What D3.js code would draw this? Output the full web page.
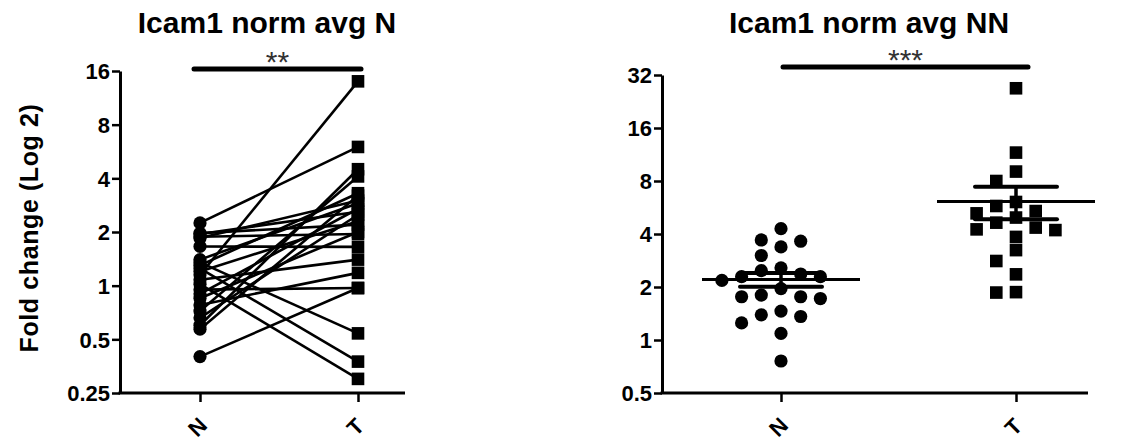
<!DOCTYPE html>
<html>
<head>
<meta charset="utf-8">
<script src="https://cdn.jsdelivr.net/npm/d3@7"></script>
<style>
  body { margin: 0; background: #fff; }
  svg text { font-family: "Liberation Sans", Arial, sans-serif; font-weight: bold; fill: #000; }
</style>
</head>
<body>
<svg id="chart" width="1128" height="441"></svg>
<script>
// categories
const groups = ["N", "T"];

// left panel: paired samples (N -> T)
const pairedN = [2.25, 1.97, 1.95, 1.88, 1.85, 1.66, 1.40, 1.35, 1.30, 1.25, 1.20, 1.15,
                 1.08, 1.02, 0.95, 0.90, 0.85, 0.78, 0.72, 0.66, 0.60, 0.57, 0.40];
const pairedT = [6.0, 2.2, 2.6, 1.95, 3.0, 1.65, 2.9, 0.54, 3.3, 0.375, 2.3, 14.0,
                 1.40, 0.30, 0.97, 2.7, 2.0, 1.18, 4.1, 2.5, 4.5, 3.2, 0.97];
const leftTicks = [0.25, 0.5, 1, 2, 4, 8, 16];

// right panel: unpaired scatter
const scatterN = [4.29, 3.70, 3.64, 3.38, 3.02, 2.57, 2.48, 2.37, 2.29, 2.29, 2.18,
                  1.96, 1.80, 1.76, 1.76, 1.72, 1.46, 1.39, 1.36, 1.25, 1.09, 0.76];
const scatterT = [26.9, 11.6, 9.05, 8.0, 6.08, 5.77, 5.40, 5.24, 4.96, 4.64, 4.35,
                  4.25, 4.21, 3.85, 3.24, 2.81, 2.36, 1.87, 1.86];
const rightTicks = [0.5, 1, 2, 4, 8, 16, 32];

const titles = ["Icam1 norm avg N", "Icam1 norm avg NN"];
const sigLabels = ["**", "***"];
const yLabel = "Fold change (Log 2)";

const svg = d3.select("#chart");
const fmt = d3.format("~g");

// axes for one panel
function drawFrame(p) {
    const y = d3.scaleLog().base(2).domain(d3.extent(p.ticks)).range([p.bottom, p.top]);
    const x = d3.scalePoint().domain(groups).range(p.xRange);
    const g = svg.append("g");

    const ya = g.append("g")
        .attr("transform", `translate(${p.left},0)`)
        .call(d3.axisLeft(y).tickValues(p.ticks).tickFormat(fmt).tickSize(8).tickSizeOuter(0).tickPadding(2));
    ya.select(".domain").attr("stroke-width", 3);
    ya.selectAll(".tick line").attr("stroke-width", 2.5);
    ya.selectAll(".tick text").style("font-size", "22px").attr("dy", "0.36em");

    const xa = g.append("g")
        .attr("transform", `translate(0,${p.bottom})`)
        .call(d3.axisBottom(x).tickSize(9).tickSizeOuter(0));
    xa.select(".domain").remove();
    xa.selectAll(".tick line").attr("stroke-width", 2.5);
    xa.selectAll(".tick text")
        .style("font-size", "22px")
        .attr("y", 0).attr("dy", 0)
        .attr("text-anchor", "middle")
        .attr("dominant-baseline", "central")
        .attr("transform", "translate(-3,34) rotate(-45)");
    g.append("line")
        .attr("x1", p.left - 1.5).attr("x2", p.right)
        .attr("y1", p.bottom).attr("y2", p.bottom)
        .attr("stroke", "#000").attr("stroke-width", 3);

    g.append("text")
        .attr("x", p.titleX).attr("y", 33)
        .attr("text-anchor", "middle")
        .style("font-size", "30px")
        .text(p.title);

    // significance bar
    g.append("line")
        .attr("x1", x("N") + p.sig[0]).attr("x2", x("T") + p.sig[1])
        .attr("y1", p.sigY).attr("y2", p.sigY)
        .attr("stroke", "#000").attr("stroke-width", 5).attr("stroke-linecap", "round");
    g.append("text")
        .attr("x", (x("N") + p.sig[0] + x("T") + p.sig[1]) / 2).attr("y", p.sigY + 3)
        .attr("text-anchor", "middle")
        .style("font-size", "30px").style("font-weight", "normal").style("fill", "#333")
        .text(p.sigText);

    return { g, x, y };
}

function square(sel, cx, cy, s) {
    sel.append("rect")
        .attr("x", cx - s / 2).attr("y", cy - s / 2)
        .attr("width", s).attr("height", s)
        .attr("fill", "#000");
}

// ---- left panel
const L = drawFrame({
    left: 120, right: 405, top: 71, bottom: 393, xRange: [200, 358],
    ticks: leftTicks, title: titles[0], titleX: 267,
    sig: [-6, 3], sigY: 69, sigText: sigLabels[0]
});

svg.append("text")
    .attr("transform", "translate(38,228) rotate(-90)")
    .attr("text-anchor", "middle")
    .style("font-size", "25px")
    .style("letter-spacing", "0.6px")
    .text(yLabel);

pairedN.forEach((v, i) => {
    L.g.append("line")
        .attr("x1", L.x("N")).attr("y1", L.y(v))
        .attr("x2", L.x("T")).attr("y2", L.y(pairedT[i]))
        .attr("stroke", "#000").attr("stroke-width", 2.6);
});
pairedN.forEach(v => {
    L.g.append("circle").attr("cx", L.x("N")).attr("cy", L.y(v)).attr("r", 6.6).attr("fill", "#000");
});
pairedT.forEach(v => square(L.g, L.x("T"), L.y(v), 12.6));

// ---- right panel
const R = drawFrame({
    left: 662, right: 1088, top: 75, bottom: 393, xRange: [781, 1016],
    ticks: rightTicks, title: titles[1], titleX: 869,
    sig: [2, 12], sigY: 67, sigText: sigLabels[1]
});

// spread points of similar height sideways, like a column scatter
function dodge(values, y, diam) {
    const order = d3.range(values.length).sort((a, b) => d3.descending(values[a], values[b]));
    const seq = [0, -1, 1, -2, 2, -3, 3, -4, 4];
    const slots = [];
    const placed = [];
    order.forEach(i => {
        const yi = y(values[i]);
        for (const s of seq) {
            if (!placed.some(q => q.s === s && Math.abs(q.y - yi) < diam)) {
                slots[i] = s;
                placed.push({ s, y: yi });
                break;
            }
        }
    });
    return slots;
}

const step = 19.7;
[[scatterN, "N"], [scatterT, "T"]].forEach(([vals, key]) => {
    const cx = R.x(key);
    const m = d3.mean(vals);
    const sem = d3.deviation(vals) / Math.sqrt(vals.length);
    const slots = dodge(vals, R.y, 13);

    vals.forEach((v, i) => {
        const px = cx + slots[i] * step;
        if (key === "N") R.g.append("circle").attr("cx", px).attr("cy", R.y(v)).attr("r", 6.6).attr("fill", "#000");
        else square(R.g, px, R.y(v), 12.6);
    });

    R.g.append("line")
        .attr("x1", cx - 79).attr("x2", cx + 79)
        .attr("y1", R.y(m)).attr("y2", R.y(m))
        .attr("stroke", "#000").attr("stroke-width", 3);
    R.g.append("line")
        .attr("x1", cx).attr("x2", cx)
        .attr("y1", R.y(m + sem)).attr("y2", R.y(m - sem))
        .attr("stroke", "#000").attr("stroke-width", 3.5);
    [m + sem, m - sem].forEach(b => {
        R.g.append("line")
            .attr("x1", cx - 41).attr("x2", cx + 41)
            .attr("y1", R.y(b)).attr("y2", R.y(b))
            .attr("stroke", "#000").attr("stroke-width", 4).attr("stroke-linecap", "round");
    });
});
</script>
</body>
</html>
